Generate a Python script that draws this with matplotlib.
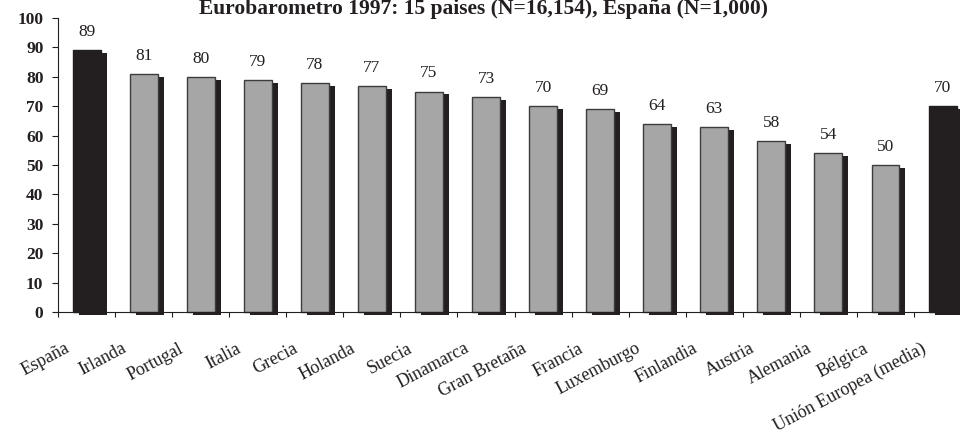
import matplotlib
matplotlib.use("Agg")
import matplotlib.pyplot as plt
from matplotlib.patches import Rectangle

categories = ["España", "Irlanda", "Portugal", "Italia", "Grecia", "Holanda", "Suecia",
              "Dinamarca", "Gran Bretaña", "Francia", "Luxemburgo", "Finlandia", "Austria",
              "Alemania", "Bélgica", "Unión Europea (media)"]
values = [89, 81, 80, 79, 78, 77, 75, 73, 70, 69, 64, 63, 58, 54, 50, 70]
highlight = [True] + [False] * 14 + [True]
yticks = [0, 10, 20, 30, 40, 50, 60, 70, 80, 90, 100]
title = "Eurobarometro 1997: 15 paises (N=16,154), España (N=1,000)"

DARK = "#231f20"
GRAY = "#a6a6a6"
EDGE = "#3c3c3c"

plt.rcParams['font.family'] = ['Liberation Serif', 'DejaVu Serif']

fig = plt.figure(figsize=(9.6, 4.46), dpi=100)
W, H = 960, 446
step = 57.07
ax = fig.add_axes([58 / W, 1 - 312 / H, 16 * step / W, (312 - 18) / H])
ax.set_xlim(0, 16)
ax.set_ylim(0, 100)

bw = 0.49
dx = 0.105
dy = 1.0
for i, (v, hl) in enumerate(zip(values, highlight)):
    c = i + 0.5
    shadow = Rectangle((c - bw / 2 + dx, -dy), bw, v, facecolor=DARK, edgecolor='none',
                       zorder=2, clip_on=False)
    ax.add_patch(shadow)
    ax.bar(c, v, width=bw, color=DARK if hl else GRAY,
           edgecolor=DARK if hl else EDGE, linewidth=1.0, zorder=3, clip_on=False)
    ax.annotate(str(v), (c, v), xytext=(0, 13), textcoords='offset points',
                ha='center', va='center', fontsize=12.5, color=DARK)

for s in ['top', 'right']:
    ax.spines[s].set_visible(False)
for s in ['left', 'bottom']:
    ax.spines[s].set_linewidth(0.8)
    ax.spines[s].set_color(DARK)
    ax.spines[s].set_zorder(4)

ax.set_yticks(yticks)
ax.set_yticklabels([str(t) for t in yticks], fontweight='bold', fontsize=12.5, color=DARK)
ax.tick_params(axis='y', direction='out', length=4.5, width=0.8, pad=6, color=DARK)
ax.set_xticks(range(0, 16))
ax.set_xticklabels([])
ax.tick_params(axis='x', direction='out', length=3.8, width=0.8, color=DARK)

for i, lab in enumerate(categories):
    ax.annotate(lab, (i + 0.5, 0), xycoords=('data', 'data'), xytext=(-13, -25.5),
                textcoords='offset points', ha='right', va='center', rotation=28,
                rotation_mode='anchor', fontsize=13, color=DARK, annotation_clip=False)

fig.text(483 / W, 1 - 14 / H, title, ha='center', va='baseline', fontsize=15.5,
         fontweight='bold', color=DARK)

fig.savefig("out.png", dpi=100)
